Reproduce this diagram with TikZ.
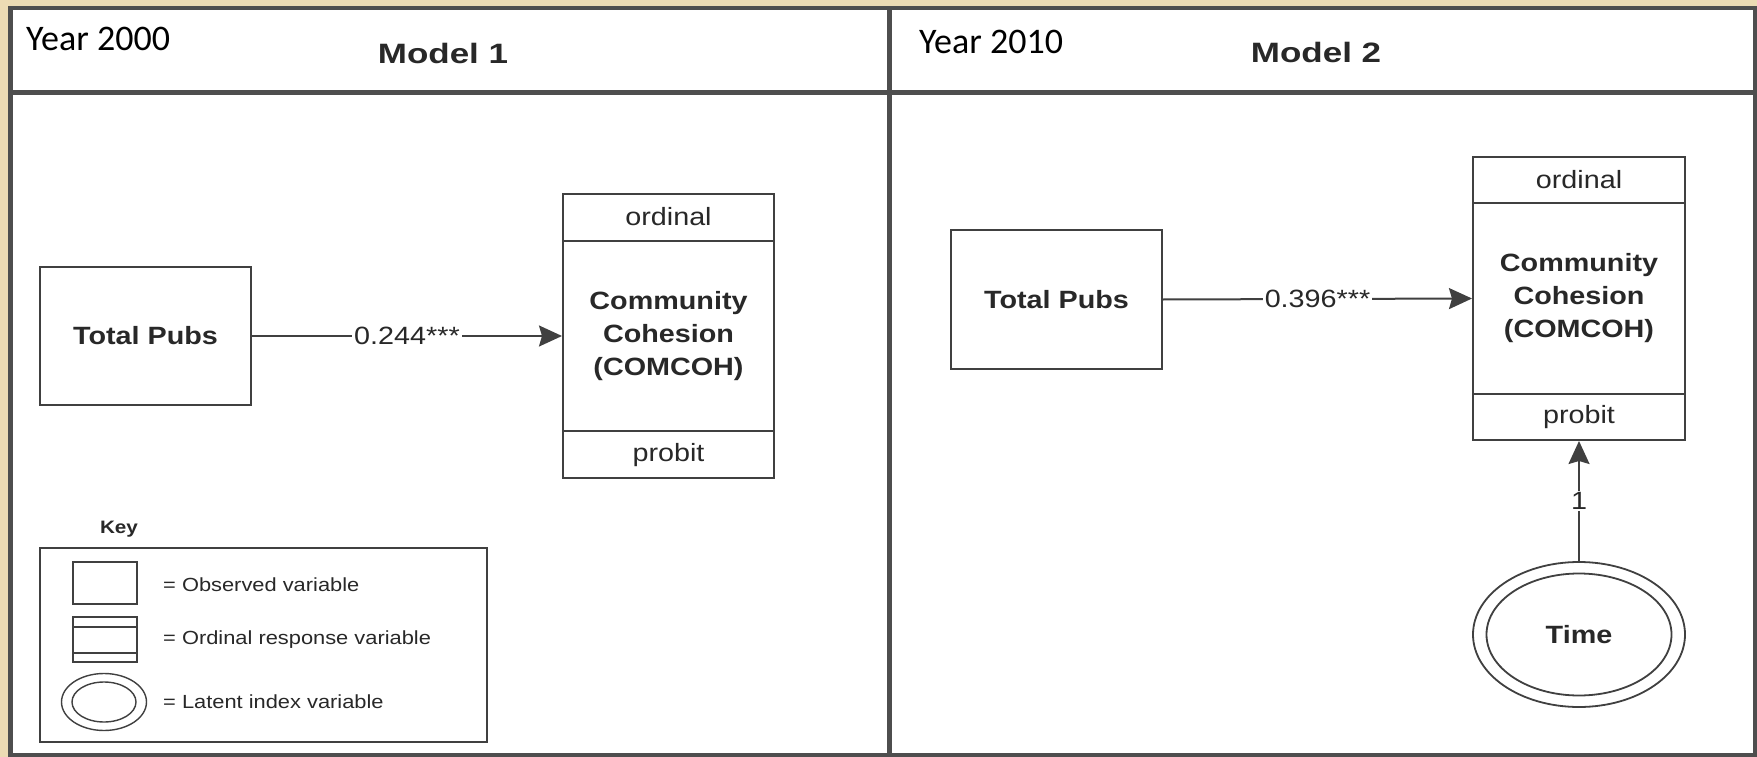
\documentclass[tikz,border=0pt]{standalone}
\usepackage{fontspec}
\usetikzlibrary{arrows.meta,shapes.geometric,calc}
\newfontfamily\arialS[FakeStretch=1.15]{Liberation Sans}
\newfontfamily\arialW[FakeStretch=1.25]{Liberation Sans}
\newfontfamily\calib{Carlito}
\definecolor{bgwood}{RGB}{236,219,180}
\definecolor{framegray}{RGB}{78,78,78}
\definecolor{boxgray}{RGB}{64,64,64}
\definecolor{txtgray}{RGB}{40,40,40}
\begin{document}
\begin{tikzpicture}[x=1pt,y=-1pt,
  obsbox/.style={draw=boxgray, line width=2pt, fill=white, rectangle, inner sep=0pt, text=txtgray, font=\arialS\bfseries\fontsize{25}{33}\selectfont, align=center},
  sectlbl/.style={text=txtgray, font=\arialS\fontsize{25}{30}\selectfont, inner sep=0pt},
  boxline/.style={draw=boxgray, line width=2pt},
  conn/.style={draw=boxgray, line width=2pt, -{Stealth[length=23pt,width=21pt,inset=3pt]}},
  lbl/.style={fill=white, text=txtgray, font=\arialS\fontsize{25}{30}\selectfont, inner sep=2pt},
  yearlbl/.style={font=\calib\fontsize{36}{40}\selectfont, anchor=base west, inner sep=0pt, text=black},
  modellbl/.style={font=\arialW\bfseries\fontsize{28}{32}\selectfont, anchor=base, inner sep=0pt, text=txtgray},
  keytxt/.style={font=\arialS\fontsize{19}{22}\selectfont, anchor=west, inner sep=0pt, text=txtgray},
  keyline/.style={draw=boxgray, line width=1.6pt},
  ]
\fill[bgwood] (0,0) rectangle (1757,757);
\useasboundingbox (0,0) rectangle (1757,757);
% frame
\filldraw[fill=white, draw=framegray, line width=4.5pt] (10.5,8) rectangle (1755,755);
\draw[framegray, line width=4.5pt] (10.5,92.5) -- (1755,92.5);
\draw[framegray, line width=4.5pt] (889.5,8) -- (889.5,755);
% headers
\node[yearlbl] (y1) at (26,51) {Year 2000};
\node[yearlbl] (y2) at (919,54) {Year 2010};
\node[modellbl] (m1) at (443,64) {Model 1};
\node[modellbl] (m2) at (1316,63) {Model 2};
% Model 1
\node[obsbox, minimum width=211pt, minimum height=138pt] (tp1) at (145.5,336) {Total Pubs};
\node[obsbox, minimum width=211pt, minimum height=284pt] (box1) at (668.5,336) {Community\\Cohesion\\(COMCOH)};
\draw[boxline] ($(box1.north west)+(0,48)$) -- ($(box1.north east)+(0,48)$);
\draw[boxline] ($(box1.south west)+(0,-48)$) -- ($(box1.south east)+(0,-48)$);
\node[sectlbl] (ord1) at ($(box1.north)+(0,24)$) {ordinal};
\node[sectlbl] (prb1) at ($(box1.south)+(0,-24)$) {probit};
\draw[conn] (tp1.east) -- node[lbl] {0.244***} (box1.west);
% Key
\node[font=\arialS\bfseries\fontsize{18}{20}\selectfont, text=txtgray, inner sep=0pt] (keyttl) at (119,529) {Key};
\node[draw=boxgray, line width=2pt, minimum width=447pt, minimum height=194pt, inner sep=0pt] (keybox) at (263.5,645) {};
\node[draw=boxgray, line width=1.6pt, minimum width=64pt, minimum height=42pt, inner sep=0pt] (kobs) at (105,583) {};
\node[draw=boxgray, line width=1.6pt, minimum width=64pt, minimum height=45pt, inner sep=0pt] (kord) at (105,639.5) {};
\draw[keyline] ($(kord.north west)+(0,11)$) -- ($(kord.north east)+(0,11)$);
\draw[keyline] ($(kord.south west)+(0,-10)$) -- ($(kord.south east)+(0,-10)$);
\node[draw=boxgray, line width=1.4pt, ellipse, minimum width=85pt, minimum height=57pt, inner sep=0pt] (klat) at (104,702) {};
\draw[keyline, line width=1.4pt] (klat.center) ellipse [x radius=32pt, y radius=20pt];
\node[keytxt] (t1) at (163,585) {= Observed variable};
\node[keytxt] (t2) at (163,640) {= Ordinal response variable};
\node[keytxt] (t3) at (163,702) {= Latent index variable};
% Model 2
\node[obsbox, minimum width=211pt, minimum height=139pt] (tp2) at (1056.5,299.5) {Total Pubs};
\node[obsbox, minimum width=212pt, minimum height=283pt] (box2) at (1579,298.5) {Community\\Cohesion\\(COMCOH)};
\draw[boxline] ($(box2.north west)+(0,47)$) -- ($(box2.north east)+(0,47)$);
\draw[boxline] ($(box2.south west)+(0,-47)$) -- ($(box2.south east)+(0,-47)$);
\node[sectlbl] (ord2) at ($(box2.north)+(0,23.5)$) {ordinal};
\node[sectlbl] (prb2) at ($(box2.south)+(0,-23.5)$) {probit};
\draw[conn] (tp2.east) -- node[lbl] {0.396***} (box2.west);
\node[draw=boxgray, line width=1.8pt, ellipse, fill=white, minimum width=212pt, minimum height=145pt, inner sep=0pt, text=txtgray, font=\arialS\bfseries\fontsize{25}{30}\selectfont] (time) at (1579,634.5) {Time};
\draw[boxline, line width=1.8pt] (time.center) ellipse [x radius=92.5pt, y radius=61pt];
\draw[conn] (time.north) -- node[lbl, inner sep=1pt] {1} (box2.south);
\end{tikzpicture}
\end{document}
